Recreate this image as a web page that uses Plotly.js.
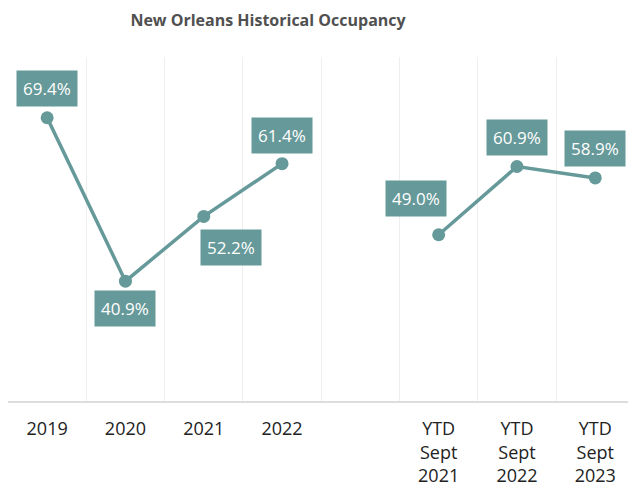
<!DOCTYPE html>
<html>
<head>
<meta charset="utf-8">
<script src="https://cdn.plot.ly/plotly-3.0.1.min.js"></script>
<style>html,body{margin:0;padding:0;background:#fff;}#chart{width:628px;height:493px;}</style>
</head>
<body>
<div id="chart"></div>
<script>
// Data
const categories = ['2019', '2020', '2021', '2022', ' ', 'YTD<br>Sept<br>2021', 'YTD<br>Sept<br>2022', 'YTD<br>Sept<br>2023'];
const occupancy = [69.4, 40.9, 52.2, 61.4, null, 49.0, 60.9, 58.9];
// label offsets in px (style only), one per category
const labelShiftX = [0, 0, 27, 0, 0, -23, 0, 0];
const labelShiftY = [29, -27, -31, 28, 0, 36, 29, 29];

const teal = '#669999';

const trace = {
  type: 'scatter',
  mode: 'lines+markers',
  x: categories,
  y: occupancy,
  connectgaps: false,
  line: {color: teal, width: 3.5},
  marker: {color: teal, size: 13},
  hoverinfo: 'skip',
  cliponaxis: false
};

const annotations = [];
categories.forEach((c, i) => {
  if (occupancy[i] === null) return;
  annotations.push({
    x: i, y: occupancy[i], xref: 'x', yref: 'y',
    text: occupancy[i].toFixed(1) + '%',
    showarrow: false,
    xshift: labelShiftX[i], yshift: labelShiftY[i],
    bgcolor: teal,
    borderpad: 6,
    font: {family: 'Open Sans, sans-serif', size: 17, color: '#ffffff'}
  });
});

const layout = {
  width: 628, height: 493,
  margin: {l: 8, r: 0, t: 57, b: 92},
  paper_bgcolor: '#ffffff',
  plot_bgcolor: '#ffffff',
  showlegend: false,
  title: {
    text: '<b>New Orleans Historical Occupancy</b>',
    font: {family: 'Open Sans, sans-serif', size: 16, color: '#505050'},
    xref: 'container', x: 0.4268, xanchor: 'center',
    yref: 'container', y: 0.959, yanchor: 'middle'
  },
  xaxis: {
    type: 'category',
    categoryorder: 'array', categoryarray: categories,
    range: [-0.5, 7.418],
    tickson: 'boundaries',
    ticks: '',
    showgrid: true, gridcolor: '#eeeeee', gridwidth: 1,
    showline: true, linecolor: '#dddddd', linewidth: 1.5,
    tickfont: {family: 'Open Sans, sans-serif', size: 18, color: '#222222'},
    ticklabelstandoff: 11,
    fixedrange: true
  },
  yaxis: {
    range: [20, 80],
    showgrid: false, zeroline: false, showticklabels: false, showline: false,
    fixedrange: true
  },
  annotations: annotations
};

Plotly.newPlot('chart', [trace], layout, {displayModeBar: false, staticPlot: true});
</script>
</body>
</html>
